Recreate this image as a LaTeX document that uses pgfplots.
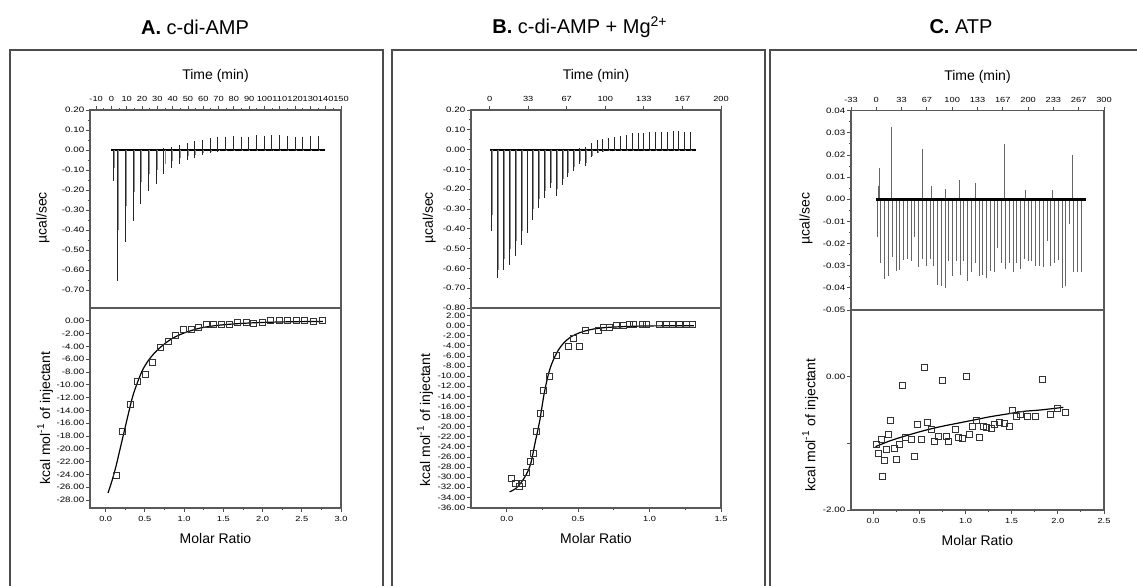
\documentclass[border=0pt]{standalone}
\usepackage{fontspec}
\setmainfont{Liberation Sans}
\newfontfamily\tickfont[FakeStretch=1.25]{Liberation Sans}
\usepackage{pgfplots}
\usepackage{pgfplotstable}
\pgfplotsset{compat=1.18}

% raw heat traces: injection time, negative peak, positive peak, tail time, tail value
\pgfplotstableread{
t      n       p      tg     g
1.3   -0.157  0.0    2.0   -0.09
4.0   -0.653  0.0    4.8   -0.40
9.04  -0.46   0.0    9.84  -0.28
14.08 -0.353  0.0    14.88 -0.21
19.12 -0.27   0.0    19.92 -0.16
24.16 -0.203  0.0    24.96 -0.12
29.2  -0.168  0.005  30.0  -0.10
34.24 -0.118  0.01   35.04 -0.07
39.28 -0.09   0.015  40.08 -0.055
44.32 -0.07   0.025  45.12 -0.042
49.36 -0.048  0.035  50.16 -0.03
54.4  -0.04   0.043  55.2  -0.024
59.44 -0.023  0.052  60.24 -0.014
64.48 -0.015  0.06   65.28 -0.009
69.52 -0.01   0.063  70.32 -0.006
74.56 -0.006  0.065  75.36 -0.004
79.6  -0.006  0.068  80.4  -0.004
84.64 -0.006  0.065  85.44 -0.004
89.68 -0.006  0.065  90.48 -0.004
94.72 -0.006  0.073  95.52 -0.004
99.76 -0.006  0.068  100.56 -0.004
104.8 -0.006  0.073  105.6 -0.004
109.84 -0.006 0.073  110.64 -0.004
114.88 -0.006 0.068  115.68 -0.004
119.92 -0.006 0.065  120.72 -0.004
124.96 -0.006 0.065  125.76 -0.004
130.0 -0.006  0.068  130.8 -0.004
135.04 -0.006 0.068  135.84 -0.004
}\thermA

\pgfplotstableread{
t      n       p      tg     g
2.0   -0.41   0.0    2.8   -0.33
7.05  -0.65   0.0    7.85  -0.61
12.1  -0.61   0.0    12.9  -0.55
17.15 -0.585  0.0    17.95 -0.50
22.2  -0.535  0.0    23.0  -0.46
27.25 -0.48   0.0    28.05 -0.41
32.3  -0.42   0.0    33.1  -0.36
37.35 -0.355  0.0    38.15 -0.30
42.4  -0.295  0.0    43.2  -0.25
47.45 -0.245  0.0    48.25 -0.21
52.5  -0.195  0.0    53.3  -0.17
57.55 -0.235  0.0    58.35 -0.20
62.6  -0.177  0.0    63.4  -0.15
67.65 -0.14   0.0    68.45 -0.12
72.7  -0.11   0.0    73.5  -0.09
77.75 -0.073  0.01   78.55 -0.06
82.8  -0.082  0.015  83.6  -0.07
87.85 -0.035  0.031  88.65 -0.03
92.9  -0.018  0.047  93.7  -0.015
97.95 -0.012  0.055  98.75 -0.01
103.0 -0.008  0.06   103.8 -0.007
108.05 -0.008 0.065  108.85 -0.007
113.1 -0.008  0.07   113.9 -0.007
118.15 -0.008 0.075  118.95 -0.007
123.2 -0.008  0.083  124.0 -0.007
128.25 -0.008 0.083  129.05 -0.007
133.3 -0.008  0.086  134.1 -0.007
138.35 -0.008 0.088  139.15 -0.007
143.4 -0.008  0.088  144.2 -0.007
148.45 -0.008 0.09   149.25 -0.007
153.5 -0.008  0.09   154.3 -0.007
158.55 -0.008 0.095  159.35 -0.007
163.6 -0.008  0.095  164.4 -0.007
168.65 -0.008 0.09   169.45 -0.007
173.7 -0.008  0.088  174.5 -0.007
}\thermB

\pgfplotstableread{
t     n
1.0   -0.017
6.0   -0.0288
11.0  -0.0358
15.9  -0.0348
20.9  -0.026
25.9  -0.0325
30.9  -0.032
35.8  -0.0275
40.8  -0.027
45.8  -0.028
50.8  -0.017
55.7  -0.0305
60.7  -0.027
65.7  -0.030
70.7  -0.027
75.6  -0.030
80.6  -0.0387
85.6  -0.039
90.6  -0.040
95.5  -0.028
100.5 -0.0348
105.5 -0.028
110.5 -0.034
115.4 -0.028
120.4 -0.037
125.4 -0.033
130.4 -0.029
135.4 -0.0348
140.3 -0.034
145.3 -0.0355
150.3 -0.0325
155.3 -0.033
160.2 -0.022
165.2 -0.029
170.2 -0.0315
175.2 -0.029
180.1 -0.033
185.1 -0.029
190.1 -0.0315
195.1 -0.027
200.0 -0.028
205.0 -0.028
210.0 -0.030
215.0 -0.030
219.9 -0.0305
224.9 -0.019
229.9 -0.030
234.9 -0.029
239.9 -0.0275
244.8 -0.040
249.8 -0.039
254.8 -0.011
259.8 -0.033
264.7 -0.033
269.7 -0.033
}\thermC

\pgfplotstableread{
t     p
4.4   0.014
2.8   0.006
20.6  0.0325
60.2  0.0228
72.0  0.006
90.9  0.0045
109.8 0.0085
130.4 0.0075
168.2 0.025
196.0 0.004
232.0 0.004
257.8 0.020
258.6 0.009
}\upC

% integrated heats (squares) and fitted curves
\pgfplotstableread{
x     y
0.136 -24.1
0.22  -17.3
0.32  -13.0
0.41  -9.4
0.51  -8.45
0.60  -6.5
0.70  -4.2
0.80  -3.2
0.89  -2.3
0.99  -1.4
1.09  -1.3
1.18  -1.0
1.29  -0.6
1.38  -0.5
1.48  -0.5
1.58  -0.5
1.68  -0.2
1.79  -0.2
1.89  -0.4
2.00  -0.2
2.10  0.0
2.21  0.0
2.32  0.0
2.43  0.0
2.53  0.0
2.65  -0.1
2.76  0.0
}\heatA

\pgfplotstableread{
x     y
0.03  -26.9
0.08  -25.0
0.13  -22.8
0.18  -20.2
0.23  -17.6
0.28  -15.0
0.34  -12.0
0.40  -9.8
0.47  -7.7
0.55  -6.1
0.64  -4.8
0.74  -3.7
0.85  -2.75
1.00  -1.9
1.20  -1.15
1.40  -0.75
1.62  -0.5
1.85  -0.33
2.10  -0.22
2.40  -0.14
2.77  -0.1
}\fitA

\pgfplotstableread{
x     y
0.035 -30.3
0.058 -31.3
0.086 -31.8
0.112 -31.2
0.14  -29.0
0.164 -26.8
0.19  -25.2
0.21  -21.0
0.234 -17.4
0.26  -12.8
0.30  -10.0
0.35  -5.9
0.43  -4.1
0.47  -2.5
0.51  -4.1
0.55  -0.95
0.64  -0.95
0.68  -0.3
0.72  -0.3
0.77  -0.05
0.82  -0.05
0.86  0.15
0.89  0.15
0.95  0.15
0.98  0.15
1.07  0.15
1.12  0.15
1.16  0.15
1.21  0.15
1.26  0.15
1.30  0.15
}\heatB

\pgfplotstableread{
x     y
0.02  -32.9
0.06  -32.3
0.10  -31.1
0.14  -29.3
0.17  -27.1
0.20  -23.0
0.23  -19.0
0.26  -13.8
0.29  -9.8
0.32  -7.2
0.36  -4.9
0.40  -3.4
0.45  -2.2
0.52  -1.3
0.60  -0.7
0.70  -0.35
0.85  -0.15
1.00  -0.05
1.31  0.0
}\fitB

\pgfplotstableread{
x     y
0.032 -1.02
0.061 -1.15
0.086 -0.94
0.097 -1.49
0.119 -1.25
0.144 -1.09
0.169 -0.86
0.187 -0.66
0.23  -1.07
0.252 -1.24
0.288 -1.01
0.317 -0.125
0.35  -0.91
0.41  -0.94
0.447 -1.19
0.475 -0.71
0.519 -0.94
0.555 0.14
0.59  -0.69
0.627 -0.79
0.663 -0.97
0.71  -0.89
0.746 -0.06
0.789 -0.89
0.818 -0.97
0.89  -0.79
0.919 -0.91
0.962 -0.93
1.005 0.0
1.045 -0.86
1.08  -0.74
1.117 -0.65
1.153 -0.91
1.196 -0.74
1.232 -0.76
1.279 -0.78
1.315 -0.71
1.369 -0.69
1.419 -0.70
1.473 -0.75
1.513 -0.50
1.556 -0.59
1.592 -0.57
1.671 -0.60
1.754 -0.60
1.834 -0.035
1.916 -0.56
1.999 -0.48
2.086 -0.53
}\heatC

\pgfplotstableread{
x     y
0.025 -1.05
0.187 -0.96
0.37  -0.88
0.548 -0.81
0.728 -0.75
0.908 -0.70
1.09  -0.65
1.27  -0.60
1.45  -0.56
1.63  -0.52
1.81  -0.50
2.06  -0.46
}\fitC

\pgfplotsset{
  itc/.style={
    scale only axis,
    tick align=outside,
    axis line style={black!65, line width=0.6pt},
    major tick length=2pt, minor tick length=1.1pt,
    every tick/.style={black!70, line width=0.45pt},
    label style={font=\fontsize{7}{8}\selectfont},
    x tick label style={font=\tickfont\fontsize{3.7}{4}\selectfont, inner sep=1.9pt},
    y tick label style={font=\tickfont\fontsize{3.9}{4.2}\selectfont, inner sep=0.7pt},
    /pgf/number format/assume math mode=true,
    scaled x ticks=false, scaled y ticks=false,
    ytick pos=left,
  },
  toppanel/.style={
    itc,
    xtick pos=right, xticklabel pos=right,
    xlabel={Time (min)},
    ylabel={µcal/sec},
    minor x tick num=1, minor y tick num=1,
    y tick label style={/pgf/number format/fixed, /pgf/number format/fixed zerofill, /pgf/number format/precision=2},
  },
  botpanel/.style={
    itc,
    xtick pos=left,
    xlabel={Molar Ratio},
    ylabel={kcal mol\textsuperscript{-1} of injectant},
    minor x tick num=1,
    x tick label style={/pgf/number format/fixed, /pgf/number format/fixed zerofill, /pgf/number format/precision=1},
    y tick label style={/pgf/number format/fixed, /pgf/number format/fixed zerofill, /pgf/number format/precision=2},
  },
  needle/.style={ycomb, black!85, line width=0.45pt},
  tail/.style={ycomb, black!45, line width=0.45pt},
  base/.style={black, line width=0.9pt},
  sq/.style={only marks, mark=square, mark size=1.5pt, black!80, mark options={line width=0.45pt}},
  fit/.style={black, line width=0.6pt, smooth, no marks},
}

\begin{document}
\begin{tikzpicture}
\useasboundingbox (0pt,0pt) rectangle (568.5pt,-292.5pt);

% panel frames and titles
\draw[black!70, line width=1pt] (5pt,-25pt) rectangle (191.5pt,-320pt);
\draw[black!70, line width=1pt] (196pt,-25pt) rectangle (382.5pt,-320pt);
\draw[black!70, line width=1pt] (385pt,-25pt) rectangle (580pt,-320pt);
\node[font=\fontsize{10}{12}\selectfont] at (97.5pt,-13.5pt) {\textbf{A.} c-di-AMP};
\node[font=\fontsize{10}{12}\selectfont] at (290pt,-13.5pt) {\textbf{B.} c-di-AMP + Mg\textsuperscript{2+}};
\node[font=\fontsize{10}{12}\selectfont] at (480.5pt,-13.5pt) {\textbf{C.} ATP};

% ---------- A ----------
\begin{axis}[toppanel, name=At, anchor=north west, at={(45pt,-55pt)},
  width=125.5pt, height=99pt,
  xmin=-14, xmax=150, ymin=-0.79, ymax=0.2,
  xtick={-10,0,...,150},
  ytick={-0.7,-0.6,-0.5,-0.4,-0.3,-0.2,-0.1,0,0.1,0.2},
  xlabel style={at={(axis description cs:0.5,1.172)}, anchor=center},
  ylabel style={at={(axis description cs:-0.187,0.455)}, anchor=center},
]
\addplot[base] coordinates {(0,0) (139.6,0)};
\addplot[tail] table[x=tg, y=g] {\thermA};
\addplot[needle] table[x=t, y=n] {\thermA};
\addplot[needle] table[x=t, y=p] {\thermA};
\draw[black, line width=1pt] (rel axis cs:0,0) -- (rel axis cs:1,0);
\end{axis}

\begin{axis}[botpanel, anchor=north west, at={(45pt,-154pt)},
  width=125.5pt, height=100pt,
  xmin=-0.2, xmax=3.0, ymin=-29.25, ymax=2.0,
  xtick={0,0.5,...,3},
  ytick={-28,-26,...,0},
  xlabel style={at={(axis description cs:0.5,-0.15)}, anchor=center},
  ylabel style={at={(axis description cs:-0.179,0.45)}, anchor=center},
]
\addplot[fit] table {\fitA};
\addplot[sq] table {\heatA};
\end{axis}

% ---------- B ----------
\begin{axis}[toppanel, anchor=north west, at={(235.5pt,-55pt)},
  width=125pt, height=99pt,
  xmin=-16.1, xmax=200, ymin=-0.8, ymax=0.2,
  xtick={0,33.333,66.667,100,133.333,166.667,200},
  xticklabels={0,33,67,100,133,167,200},
  ytick={-0.8,-0.7,-0.6,-0.5,-0.4,-0.3,-0.2,-0.1,0,0.1,0.2},
  xlabel style={at={(axis description cs:0.5,1.172)}, anchor=center},
  ylabel style={at={(axis description cs:-0.167,0.455)}, anchor=center},
]
\addplot[base] coordinates {(0.5,0) (178,0)};
\addplot[tail] table[x=tg, y=g] {\thermB};
\addplot[needle] table[x=t, y=n] {\thermB};
\addplot[needle] table[x=t, y=p] {\thermB};
\end{axis}

\begin{axis}[botpanel, anchor=north west, at={(235.5pt,-154pt)},
  width=125pt, height=100pt,
  xmin=-0.25, xmax=1.5, ymin=-36.1, ymax=3.5,
  xtick={0,0.5,1,1.5},
  ytick={-36,-34,...,2},
  xlabel style={at={(axis description cs:0.5,-0.15)}, anchor=center},
  ylabel style={at={(axis description cs:-0.184,0.44)}, anchor=center},
]
\addplot[fit] table {\fitB};
\addplot[sq] table {\heatB};
\end{axis}

% ---------- C ----------
\begin{axis}[toppanel, anchor=north west, at={(425.5pt,-55.35pt)},
  width=126.5pt, height=99.65pt,
  xmin=-33.333, xmax=300, ymin=-0.05, ymax=0.04,
  xtick={-33.333,0,33.333,66.667,100,133.333,166.667,200,233.333,266.667,300},
  xticklabels={-33,0,33,67,100,133,167,200,233,267,300},
  ytick={-0.05,-0.04,-0.03,-0.02,-0.01,0,0.01,0.02,0.03,0.04},
  xlabel style={at={(axis description cs:0.5,1.168)}, anchor=center},
  ylabel style={at={(axis description cs:-0.178,0.46)}, anchor=center},
]
\addplot[needle, black!60] table[x=t, y=n] {\thermC};
\addplot[needle, black!60] table[x=t, y=p] {\upC};
\addplot[black, line width=1.5pt] coordinates {(0,0) (276,0)};
\end{axis}

\begin{axis}[botpanel, anchor=north west, at={(425.5pt,-155pt)},
  width=126.5pt, height=100pt,
  xmin=-0.24, xmax=2.5, ymin=-2.0, ymax=1.0,
  xtick={0,0.5,1,1.5,2,2.5},
  ytick={-2,-1,0}, yticklabels={-2.00,,0.00},
  xlabel style={at={(axis description cs:0.5,-0.153)}, anchor=center},
  ylabel style={at={(axis description cs:-0.161,0.425)}, anchor=center},
]
\addplot[fit] table {\fitC};
\addplot[sq] table {\heatC};
\end{axis}
\end{tikzpicture}
\end{document}
